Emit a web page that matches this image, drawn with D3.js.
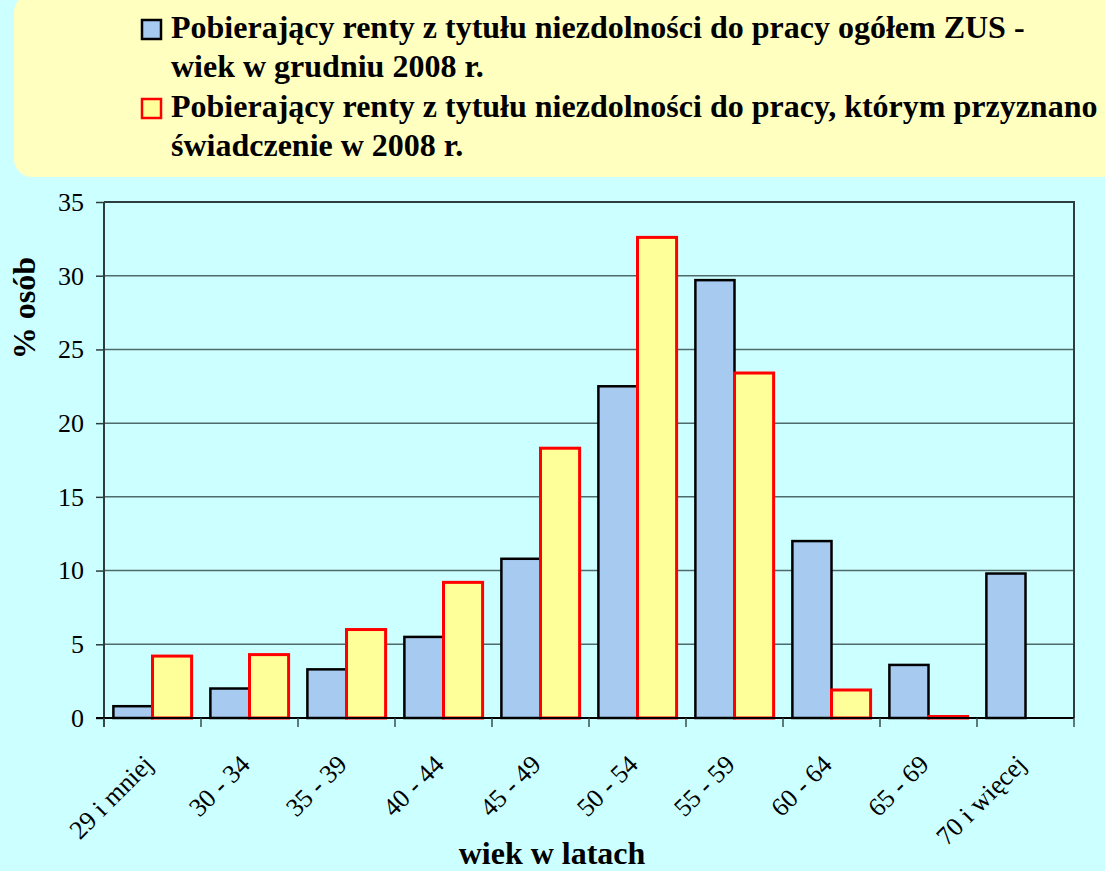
<!DOCTYPE html>
<html>
<head>
<meta charset="utf-8">
<script src="https://cdn.jsdelivr.net/npm/d3@7"></script>
<style>
  html, body { margin: 0; padding: 0; background: #ccffff; }
  svg { display: block; }
  svg text { font-family: 'Liberation Serif', 'Times New Roman', serif; }
</style>
</head>
<body>
<svg id="chart"></svg>
<script>
// Renty z tytułu niezdolności do pracy - struktura wieku

const categories = ['29 i mniej', '30 - 34', '35 - 39', '40 - 44', '45 - 49',
  '50 - 54', '55 - 59', '60 - 64', '65 - 69', '70 i więcej'];
const ogolemValues = [0.8, 2.0, 3.3, 5.5, 10.8, 22.5, 29.7, 12.0, 3.6, 9.8];
const przyznaneValues = [4.2, 4.3, 6.0, 9.2, 18.3, 32.6, 23.4, 1.9, 0.1, 0];
const yTicks = [0, 5, 10, 15, 20, 25, 30, 35];
const seriesNames = [
  ['Pobierający renty z tytułu niezdolności do pracy ogółem ZUS -', 'wiek w grudniu 2008 r.'],
  ['Pobierający renty z tytułu niezdolności do pracy, którym przyznano', 'świadczenie w 2008 r.']
];

const series = [
  { key: 'ogolem', names: seriesNames[0], values: ogolemValues, fill: '#a6caf0', stroke: '#000000' },
  { key: 'przyznane', names: seriesNames[1], values: przyznaneValues, fill: '#ffff99', stroke: '#ff0000' }
];

const width = 1105;
const height = 871;
const margin = { top: 202, right: 31, bottom: 153, left: 104 };
const chartWidth = width - margin.left - margin.right;
const chartHeight = height - margin.top - margin.bottom;
const font = "'Liberation Serif', 'Times New Roman', serif";

const svg = d3.select('#chart')
  .attr('width', width)
  .attr('height', height);

svg.append('rect')
  .attr('width', width)
  .attr('height', height)
  .style('fill', '#ccffff');

// Legend box
svg.append('rect')
  .attr('x', 14)
  .attr('y', -6)
  .attr('width', width + 40)
  .attr('height', 183)
  .attr('rx', 18)
  .style('fill', '#ffffc0');

const legend = svg.append('g');

const legendItems = legend.selectAll('.legend-item')
  .data(series)
  .enter()
  .append('g')
  .attr('class', 'legend-item')
  .attr('transform', (d, i) => `translate(0,${i * 79})`);

legendItems.append('rect')
  .attr('x', 142)
  .attr('y', 20)
  .attr('width', 19)
  .attr('height', 19)
  .style('fill', d => d.fill)
  .style('stroke', d => d.stroke)
  .style('stroke-width', '2.5px');

legendItems.append('text')
  .attr('x', 171)
  .attr('y', 38)
  .style('font-size', '32px')
  .style('font-weight', 'bold')
  .style('fill', '#000')
  .text(d => d.names[0]);

legendItems.append('text')
  .attr('x', 171)
  .attr('y', 76.5)
  .style('font-size', '32px')
  .style('font-weight', 'bold')
  .style('fill', '#000')
  .text(d => d.names[1]);

const g = svg.append('g')
  .attr('transform', `translate(${margin.left},${margin.top})`);

// Scales
const x0 = d3.scaleBand()
  .domain(categories)
  .range([0, chartWidth]);

const x1 = d3.scaleBand()
  .domain(series.map(d => d.key))
  .range([0, x0.bandwidth()])
  .paddingOuter(0.24);

const yScale = d3.scaleLinear()
  .domain([0, 35])
  .range([chartHeight, 0]);

// Grid lines
g.append('g')
  .attr('class', 'grid')
  .selectAll('line')
  .data(yTicks.filter(d => d > 0 && d < 35))
  .enter()
  .append('line')
  .attr('x1', 0)
  .attr('x2', chartWidth)
  .attr('y1', d => yScale(d))
  .attr('y2', d => yScale(d))
  .style('stroke', '#4f6a6a')
  .style('stroke-width', '1.5px');

// Frame (top and right)
g.append('path')
  .attr('d', `M0,0H${chartWidth}V${chartHeight}`)
  .style('fill', 'none')
  .style('stroke', '#2b3d3d')
  .style('stroke-width', '2px');

// Bars
const groups = g.selectAll('.bar-group')
  .data(categories)
  .enter()
  .append('g')
  .attr('class', 'bar-group')
  .attr('transform', d => `translate(${x0(d)},0)`);

groups.selectAll('rect')
  .data((c, i) => series.filter(s => s.values[i] > 0).map(s => ({ s, value: s.values[i] })))
  .enter()
  .append('rect')
  .attr('x', d => x1(d.s.key))
  .attr('y', d => yScale(d.value))
  .attr('width', x1.bandwidth())
  .attr('height', d => chartHeight - yScale(d.value))
  .style('fill', d => d.s.fill)
  .style('stroke', d => d.s.stroke)
  .style('stroke-width', d => d.s.key === 'ogolem' ? '2.5px' : '3px');

// Y axis
const yAxis = d3.axisLeft(yScale)
  .tickValues(yTicks)
  .tickSize(8)
  .tickPadding(12);

const yAxisG = g.append('g')
  .attr('class', 'axis y-axis')
  .call(yAxis)
  .attr('font-family', null);

yAxisG.select('.domain')
  .attr('d', `M0,${chartHeight + 9}V0`)
  .style('stroke', '#2b3d3d')
  .style('stroke-width', '2px');

yAxisG.selectAll('.tick line')
  .style('stroke', '#2b3d3d')
  .style('stroke-width', '1.5px');

yAxisG.selectAll('text')
  .style('font-family', font)
  .style('font-size', '26px')
  .style('fill', '#000');

// X axis: line, boundary ticks, rotated labels
const xAxisG = g.append('g')
  .attr('class', 'axis x-axis')
  .attr('transform', `translate(0,${chartHeight})`);

xAxisG.append('line')
  .attr('x1', -8)
  .attr('x2', chartWidth)
  .style('stroke', '#000')
  .style('stroke-width', '2px');

xAxisG.selectAll('.boundary')
  .data(categories.map(c => x0(c)).concat([chartWidth]))
  .enter()
  .append('line')
  .attr('class', 'boundary')
  .attr('x1', d => d)
  .attr('x2', d => d)
  .attr('y1', 0)
  .attr('y2', 9)
  .style('stroke', '#3a4d4d')
  .style('stroke-width', '1.5px');

xAxisG.selectAll('.x-label')
  .data(categories)
  .enter()
  .append('text')
  .attr('class', 'x-label')
  .attr('transform', d => `translate(${x0(d) + x0.bandwidth() / 2 + 2},48) rotate(-45)`)
  .attr('text-anchor', 'end')
  .style('font-size', '26px')
  .style('fill', '#000')
  .text(d => d);

// Axis titles
svg.append('text')
  .attr('x', 552)
  .attr('y', 864)
  .attr('text-anchor', 'middle')
  .style('font-size', '32px')
  .style('font-weight', 'bold')
  .style('fill', '#000')
  .text('wiek w latach');

svg.append('text')
  .attr('transform', 'translate(35,308) rotate(-90)')
  .attr('text-anchor', 'middle')
  .style('font-size', '32px')
  .style('font-weight', 'bold')
  .style('fill', '#000')
  .text('% osób');
</script>
</body>
</html>
